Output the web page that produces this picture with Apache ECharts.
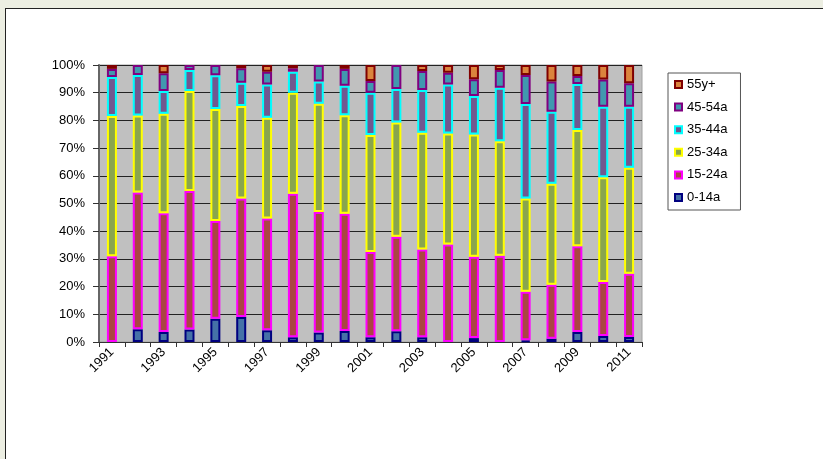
<!DOCTYPE html>
<html>
<head>
<meta charset="utf-8">
<script src="https://cdn.jsdelivr.net/npm/echarts@6/dist/echarts.min.js"></script>
<style>
  html, body { margin:0; padding:0; width:823px; height:459px; overflow:hidden; background:#ECEEE2; }
  #panel { position:absolute; left:5px; top:8px; width:830px; height:470px; background:#fff; border-left:1px solid #222; border-top:1px solid #222; }
  #chart { position:absolute; left:0; top:0; width:823px; height:459px; }
</style>
</head>
<body>
<div id="panel"></div>
<div id="chart"></div>
<script>
const years = ['1991','1992','1993','1994','1995','1996','1997','1998','1999','2000','2001','2002','2003','2004','2005','2006','2007','2008','2009','2010','2011'];
const seriesNames = ['0-14a','15-24a','25-34a','35-44a','45-54a','55y+'];
const age0_14  = [0,   4.6, 3.6, 4.5, 8.4, 9.0, 4.2, 1.7, 3.4, 4.0, 1.7, 3.9, 1.7, 0,   1.4, 0,   0.6, 1.2, 3.6, 2.2, 1.8];
const age15_24 = [31.0,49.4,42.9,50.0,35.3,42.8,40.4,51.8,43.5,42.3,30.8,34.1,31.7,35.2,29.4,31.1,17.5,19.5,31.0,19.5,22.8];
const age25_34 = [50.6,27.8,35.9,36.1,40.4,33.4,36.4,36.5,39.1,35.6,42.2,41.2,42.1,40.1,44.1,41.4,33.7,36.4,41.9,37.8,38.3];
const age35_44 = [14.1,14.6,8.2, 7.6, 12.2,8.4, 12.0,7.6, 8.0, 10.6,15.3,12.1,15.5,17.7,13.9,19.3,34.1,26.0,16.6,25.4,22.0];
const age45_54 = [2.9, 3.6, 6.4, 1.8, 3.7, 5.2, 4.6, 1.2, 6.0, 6.1, 4.2, 8.7, 6.8, 4.2, 6.1, 6.4, 10.5,10.9,2.9, 9.9, 8.5];
const age55p   = [1.4, 0,   3.0, 0,   0,   1.2, 2.4, 1.2, 0,   1.4, 5.8, 0,   2.2, 2.8, 5.1, 1.8, 3.6, 6.0, 4.0, 5.2, 6.6];
const yTicks = ['0%','10%','20%','30%','40%','50%','60%','70%','80%','90%','100%'];

const values = [age0_14, age15_24, age25_34, age35_44, age45_54, age55p];
const fills   = ['#4572A7','#AA4643','#89A54E','#71588F','#4198AF','#DB843D'];
const borders = ['#000080','#FF00FF','#FFFF00','#00FFFF','#800080','#800000'];

const chart = echarts.init(document.getElementById('chart'), null, {renderer:'canvas'});
const series = seriesNames.map((name, i) => {
  return {
    name: name,
    type: 'bar',
    stack: 'total',
    barWidth: 10,
    itemStyle: { color: fills[i], borderColor: borders[i], borderWidth: 2 },
    data: values[i].map((v, j) => {
      let tot = 0; values.forEach(a => tot += a[j]);
      return v === 0 ? '-' : v / tot * 100;
    })
  };
});

chart.setOption({
  animation: false,
  textStyle: { fontFamily: 'Liberation Sans, Arial, sans-serif' },
  grid: { left: 99, top: 65, width: 543, height: 277, show: true, backgroundColor: '#C0C0C0', borderColor: '#A0A0A0', borderWidth: 1 },
  legend: {
    orient: 'vertical',
    left: 668, top: 73,
    data: ['55y+','45-54a','35-44a','25-34a','15-24a','0-14a'],
    itemWidth: 7, itemHeight: 7, itemGap: 9.6,
    padding: [5, 13, 6, 6],
    borderColor: '#555', borderWidth: 1,
    textStyle: { fontSize: 13, color: '#000', fontFamily: 'Liberation Sans, Arial, sans-serif' },
    icon: 'rect'
  },
  xAxis: {
    type: 'category',
    data: years,
    axisLine: { lineStyle: { color: '#333', width: 1 } },
    axisTick: { show: true, interval: 0, length: 5, lineStyle: { color: '#333' } },
    axisLabel: { interval: 1, rotate: 45, fontSize: 13, color: '#000', margin: 8 },
    splitLine: { show: false }
  },
  yAxis: {
    type: 'value',
    min: 0, max: 100, interval: 10,
    axisLine: { show: true, lineStyle: { color: '#666', width: 2 } },
    axisTick: { show: true, length: 6, lineStyle: { color: '#333' } },
    axisLabel: { fontSize: 13, color: '#000', margin: 14, formatter: v => yTicks[Math.round(v / 10)] },
    splitLine: { show: true, lineStyle: { color: '#222', width: 1 } }
  },
  series: series
});
</script>
</body>
</html>
